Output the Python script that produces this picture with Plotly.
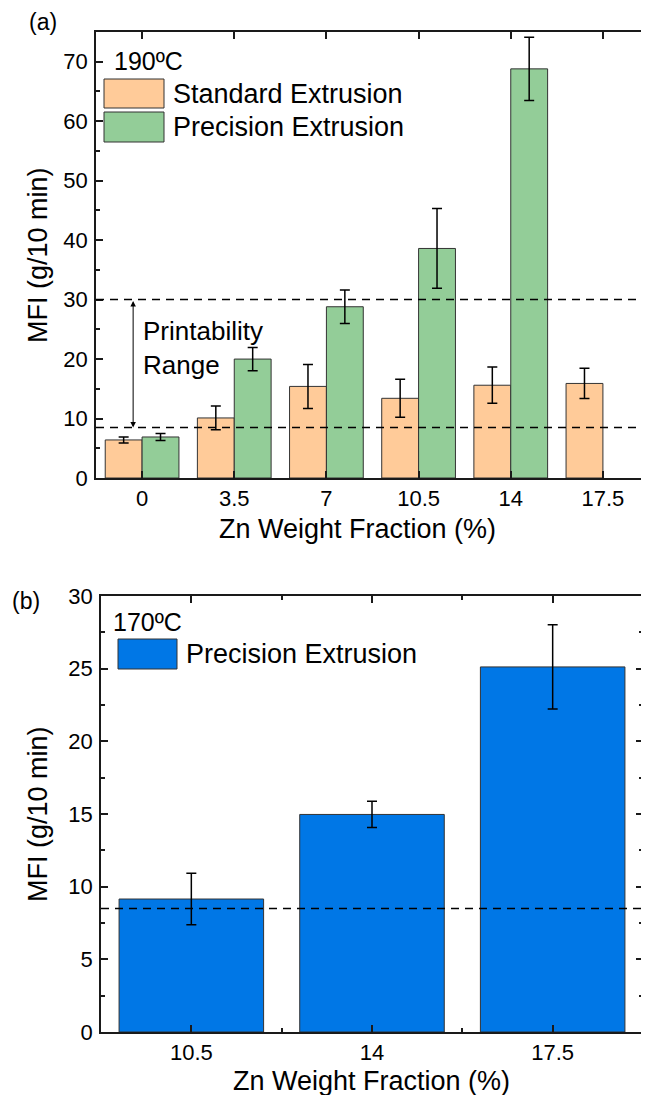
import plotly.graph_objects as go

# ---------------- data ----------------
zn_a = [0, 3.5, 7, 10.5, 14, 17.5]
zn_a_labels = ["0", "3.5", "7", "10.5", "14", "17.5"]
standard_mfi = [6.4, 10.1, 15.4, 13.4, 15.6, 15.9]
standard_err = [0.5, 2.0, 3.7, 3.2, 3.05, 2.55]
zn_prec_a = [0, 3.5, 7, 10.5, 14]
precision_mfi_190 = [6.9, 20.0, 28.8, 38.6, 68.8]
precision_err_190 = [0.6, 1.95, 2.8, 6.7, 5.3]

zn_b = [10.5, 14, 17.5]
zn_b_labels = ["10.5", "14", "17.5"]
precision_mfi_170 = [9.15, 14.97, 25.12]
precision_err_170 = [1.77, 0.9, 2.9]

printability_low = 8.5
printability_high = 30

# ---------------- style ----------------
OFF = 8  # default body margin of the page
W, H = 649 - OFF, 1095 - OFF
FONT = "Liberation Sans, Arial, sans-serif"
ORANGE = "rgb(255,203,153)"
GREEN = "rgb(147,205,152)"
BLUE = "rgb(0,119,230)"
EDGE = "#333333"
AX = "#1a1a1a"


def px(x):
    return min(1.0, max(0.0, (x - OFF) / W))


def py(y):
    return 1 - (y - OFF) / H


fig = go.Figure()

err_style = dict(type="data", color="black", thickness=1.5, width=5)

fig.add_trace(go.Bar(
    x=zn_a, y=standard_mfi, width=1.4, offset=-1.4,
    marker=dict(color=ORANGE, line=dict(color=EDGE, width=1)),
    error_y=dict(array=standard_err, **err_style),
    xaxis="x", yaxis="y", showlegend=False, name="Standard Extrusion"))
fig.add_trace(go.Bar(
    x=zn_prec_a, y=precision_mfi_190, width=1.4, offset=0,
    marker=dict(color=GREEN, line=dict(color=EDGE, width=1)),
    error_y=dict(array=precision_err_190, **err_style),
    xaxis="x", yaxis="y", showlegend=False, name="Precision Extrusion"))
fig.add_trace(go.Bar(
    x=zn_b, y=precision_mfi_170, width=2.8,
    marker=dict(color=BLUE, line=dict(color=EDGE, width=1)),
    error_y=dict(array=precision_err_170, **err_style),
    xaxis="x2", yaxis="y2", showlegend=False, name="Precision Extrusion"))

axis_common = dict(
    showline=True, linewidth=1.5, linecolor=AX, mirror="ticks",
    ticks="inside", ticklen=7, tickwidth=1.5, tickcolor=AX,
    showgrid=False, zeroline=False, automargin=False,
    tickfont=dict(family=FONT, size=22, color="black"),
)

fig.update_layout(
    width=W, height=H,
    margin=dict(l=0, r=0, t=0, b=0, pad=0, autoexpand=False),
    paper_bgcolor="white", plot_bgcolor="white",
    barmode="overlay",
    font=dict(family=FONT, color="black"),
    xaxis=dict(domain=[px(96), 1.0], range=[-1.75, 19.25],
               tickmode="array", tickvals=zn_a, ticktext=zn_a_labels,
               anchor="y", ticklabelstandoff=0, **axis_common),
    yaxis=dict(domain=[py(478), py(32)], range=[0, 75],
               tickmode="linear", tick0=0, dtick=10,
               minor=dict(dtick=5, ticks="inside", ticklen=4, tickwidth=1.5, tickcolor=AX),
               anchor="x", ticklabelstandoff=2, **axis_common),
    xaxis2=dict(domain=[px(101), px(643)], range=[8.75, 19.25],
                tickmode="array", tickvals=zn_b, ticktext=zn_b_labels,
                minor=dict(tickmode="array", tickvals=[12.25, 15.75], ticks="inside",
                           ticklen=4, tickwidth=1.5, tickcolor=AX),
                anchor="y2", ticklabelstandoff=0, **axis_common),
    yaxis2=dict(domain=[py(1032), py(596)], range=[0, 30],
                tickmode="linear", tick0=0, dtick=5,
                minor=dict(dtick=2.5, ticks="inside", ticklen=4, tickwidth=1.5, tickcolor=AX),
                anchor="x2", ticklabelstandoff=2, **axis_common),
)

# dashed reference lines
for yv in (printability_low, printability_high):
    fig.add_shape(type="line", xref="x domain", yref="y", x0=0, x1=1, y0=yv, y1=yv,
                  line=dict(color="black", width=1.5, dash="8px,6px"))
fig.add_shape(type="line", xref="x2 domain", yref="y2", x0=0, x1=1,
              y0=printability_low, y1=printability_low,
              line=dict(color="black", width=1.5, dash="8px,6px"))

# printability range arrow
fig.add_annotation(x=-0.34, y=printability_low, ax=-0.34, ay=printability_high,
                   xref="x", yref="y", axref="x", ayref="y", text="",
                   showarrow=True, arrowhead=2, startarrowhead=2, arrowside="end+start",
                   arrowwidth=1, arrowsize=1.1, startarrowsize=1.1, arrowcolor="black",
                   standoff=0, startstandoff=0)
fig.add_annotation(x=px(141), y=py(348), xref="paper", yref="paper",
                   text="Printability<br>Range", showarrow=False, xanchor="left",
                   yanchor="middle", align="left",
                   font=dict(family=FONT, size=26, color="black"))

# manual legends
legend_a = [(ORANGE, "Standard Extrusion", 79, 108), (GREEN, "Precision Extrusion", 112, 142)]
for col, label, y0, y1 in legend_a:
    fig.add_shape(type="rect", xref="paper", yref="paper",
                  x0=px(104), x1=px(164), y0=py(y1), y1=py(y0),
                  fillcolor=col, line=dict(color=EDGE, width=1))
    fig.add_annotation(x=px(171), y=py((y0 + y1) / 2), xref="paper", yref="paper",
                       text=label, showarrow=False, xanchor="left", yanchor="middle",
                       font=dict(family=FONT, size=27, color="black"))

fig.add_shape(type="rect", xref="paper", yref="paper",
              x0=px(118), x1=px(177), y0=py(669), y1=py(639),
              fillcolor=BLUE, line=dict(color=EDGE, width=1))
fig.add_annotation(x=px(184), y=py(654), xref="paper", yref="paper",
                   text="Precision Extrusion", showarrow=False, xanchor="left",
                   yanchor="middle", font=dict(family=FONT, size=27, color="black"))

# temperature labels
fig.add_annotation(x=px(112), y=py(61), xref="paper", yref="paper", text="190ºC",
                   showarrow=False, xanchor="left", yanchor="middle",
                   font=dict(family=FONT, size=25, color="black"))
fig.add_annotation(x=px(111), y=py(622), xref="paper", yref="paper", text="170ºC",
                   showarrow=False, xanchor="left", yanchor="middle",
                   font=dict(family=FONT, size=25, color="black"))

# panel labels
fig.add_annotation(x=px(27), y=py(22), xref="paper", yref="paper", text="(a)",
                   showarrow=False, xanchor="left", yanchor="middle",
                   font=dict(family=FONT, size=23, color="black"))
fig.add_annotation(x=px(10), y=py(601), xref="paper", yref="paper", text="(b)",
                   showarrow=False, xanchor="left", yanchor="middle",
                   font=dict(family=FONT, size=23, color="black"))

# axis titles
fig.add_annotation(x=px(357), y=py(529), xref="paper", yref="paper",
                   text="Zn Weight Fraction (%)", showarrow=False,
                   xanchor="center", yanchor="middle",
                   font=dict(family=FONT, size=27, color="black"))
fig.add_annotation(x=px(371), y=py(1081), xref="paper", yref="paper",
                   text="Zn Weight Fraction (%)", showarrow=False,
                   xanchor="center", yanchor="middle",
                   font=dict(family=FONT, size=27, color="black"))
fig.add_annotation(x=px(38), y=py(255), xref="paper", yref="paper",
                   text="MFI (g/10 min)", showarrow=False, textangle=-90,
                   xanchor="center", yanchor="middle",
                   font=dict(family=FONT, size=27, color="black"))
fig.add_annotation(x=px(38), y=py(814), xref="paper", yref="paper",
                   text="MFI (g/10 min)", showarrow=False, textangle=-90,
                   xanchor="center", yanchor="middle",
                   font=dict(family=FONT, size=27, color="black"))

fig.write_html("out.html")
